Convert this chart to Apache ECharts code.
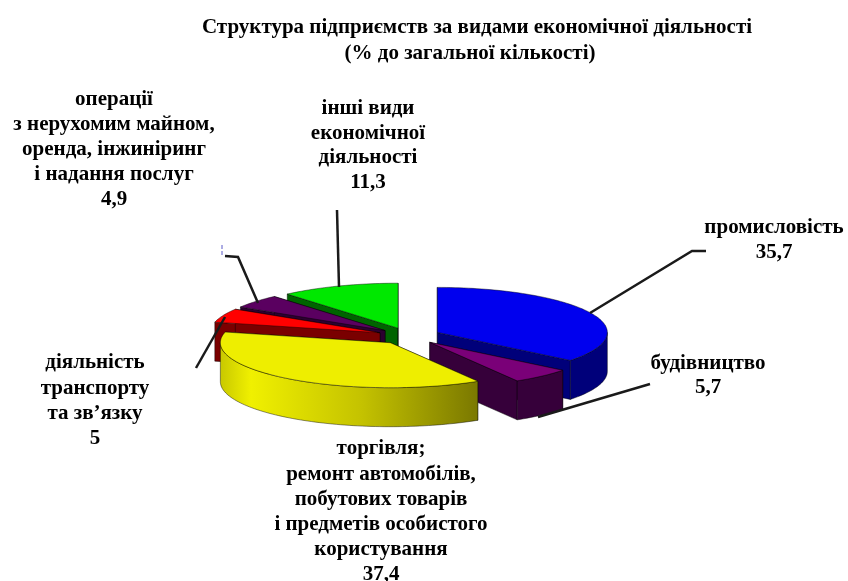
<!DOCTYPE html>
<html>
<head>
<meta charset="utf-8">
<script src="https://cdn.jsdelivr.net/npm/echarts@6/dist/echarts.min.js"></script>
<style>
html, body { margin: 0; padding: 0; background: #fff; }
#chart { width: 848px; height: 581px; }
</style>
</head>
<body>
<div id="chart"></div>
<script>
// дані, у порядку ходу годинникової стрілки від верхньої точки
const categories = [
    'промисловість',
    'будівництво',
    'торгівля;\nремонт автомобілів,\nпобутових товарів\nі предметів особистого\nкористування',
    'діяльність\nтранспорту\nта зв’язку',
    'операції\nз нерухомим майном,\nоренда, інжиніринг\nі надання послуг',
    'інші види\nекономічної\nдіяльності'
]
const values = [35.7, 5.7, 37.4, 5, 4.9, 11.3]

// кольори: верх і бокові стінки
const topColors = ['#0000ee', '#7a0078', '#eeee00', '#ff0000', '#5a0060', '#00e800']
const wallColors = ['#00007a', '#36003a', '#7a7a00', '#7a0000', '#2c0030', '#006400']

// порядок малювання: від задніх секторів до передніх
const drawOrder = [5, 4, 3, 0, 1, 2]

// геометрія псевдо-3D
const cx = 409, cy = 336, rx = 170, ry = 45, depth = 39, explode = 0.185

// підписи: центр по x і y першого рядка
const labelPos = [[774, 228], [708, 364], [381, 449], [95, 363], [114, 100], [368, 109]]
const labelLine = [25, 24, 25.2, 25.3, 25, 24.5]
const leaders = [
    [[590, 313], [692, 251], [706, 251]],
    [[538, 417], [650, 384]],
    [[225, 317], [196, 368]],
    [[258, 303], [238, 257], [225, 256]],
    [[339, 287], [337, 210]]
]

const rad = d => d * Math.PI / 180
let acc = 0
const slices = values.map((v, i) => {
    const start = acc / 100 * 360
    acc += v
    return { i, start, end: acc / 100 * 360 }
})

function renderSlice(params, api) {
    const s = slices[api.value(0)]
    const mid = rad((s.start + s.end) / 2)
    const ox = cx + explode * rx * Math.sin(mid)
    const oy = cy - explode * ry * Math.cos(mid)
    const rim = a => [ox + rx * Math.sin(rad(a)), oy - ry * Math.cos(rad(a))]
    const arc = (a, b) => {
        const pts = []
        for (let t = a; t < b; t += 1.5) pts.push(rim(t))
        pts.push(rim(b))
        return pts
    }
    const down = p => [p[0], p[1] + depth]
    const edge = { stroke: 'rgba(0,0,0,0.55)', lineWidth: 0.8 }
    const children = []
    const wall = wallColors[s.i]

    ;[s.start, s.end].forEach(a => {
        const p = rim(a)
        children.push({
            type: 'polygon',
            shape: { points: [[ox, oy], p, down(p), [ox, oy + depth]] },
            style: { fill: wall, ...edge }
        })
    })

    const a0 = Math.max(s.start, 90), a1 = Math.min(s.end, 270)
    if (a1 > a0) {
        const top = arc(a0, a1)
        const fill = s.i === 2
            ? new echarts.graphic.LinearGradient(1, 0, 0, 0, [
                { offset: 0, color: '#7a7800' },
                { offset: 0.45, color: '#c4c200' },
                { offset: 0.88, color: '#f0f000' },
                { offset: 1, color: '#c8c800' }
            ])
            : wall
        children.push({
            type: 'polygon',
            shape: { points: top.concat(top.slice().reverse().map(down)) },
            style: { fill, ...edge }
        })
    }

    children.push({
        type: 'polygon',
        shape: { points: [[ox, oy]].concat(arc(s.start, s.end)) },
        style: { fill: topColors[s.i], ...edge }
    })
    return { type: 'group', children }
}

const fmt = v => String(v).replace('.', ',')
const textFont = 'bold 21px "Liberation Serif", "Times New Roman", serif'

const labelGraphics = categories.map((name, i) => {
    const text = name + '\n' + fmt(values[i])
    // y задано для першого рядка, а текст центрується за всім блоком
    const lines = text.split('\n').length
    return {
        type: 'text',
        x: labelPos[i][0],
        y: labelPos[i][1] + (lines - 1) * labelLine[i] / 2,
        style: {
            text,
            font: textFont,
            fill: '#000',
            align: 'center',
            verticalAlign: 'middle',
            lineHeight: labelLine[i]
        }
    }
})

const leaderGraphics = leaders.map(points => ({
    type: 'polyline',
    z: 10,
    shape: { points },
    style: { stroke: '#1a1a1a', lineWidth: 2.5, fill: null }
}))

const titleStyle = {
    fontFamily: '"Liberation Serif", "Times New Roman", serif',
    fontWeight: 'bold',
    fontSize: 21,
    lineHeight: 26,
    color: '#000'
}

const chart = echarts.init(document.getElementById('chart'), null, { renderer: 'canvas' })
chart.setOption({
    animation: false,
    backgroundColor: '#fff',
    title: [{
        text: 'Структура підприємств за видами економічної діяльності',
        left: 477,
        top: 15,
        padding: 0,
        textAlign: 'center',
        textStyle: titleStyle
    }, {
        text: '(% до загальної кількості)',
        left: 470,
        top: 41,
        padding: 0,
        textAlign: 'center',
        textStyle: titleStyle
    }],
    series: [{
        type: 'custom',
        coordinateSystem: 'none',
        renderItem: renderSlice,
        data: drawOrder.map(i => [i, values[i]]),
        silent: true
    }],
    graphic: labelGraphics.concat(leaderGraphics).concat([{
        type: 'line',
        shape: { x1: 222, y1: 245, x2: 222, y2: 255 },
        style: { stroke: '#5a5ac8', lineWidth: 1, lineDash: [4, 2] }
    }])
})
</script>
</body>
</html>
